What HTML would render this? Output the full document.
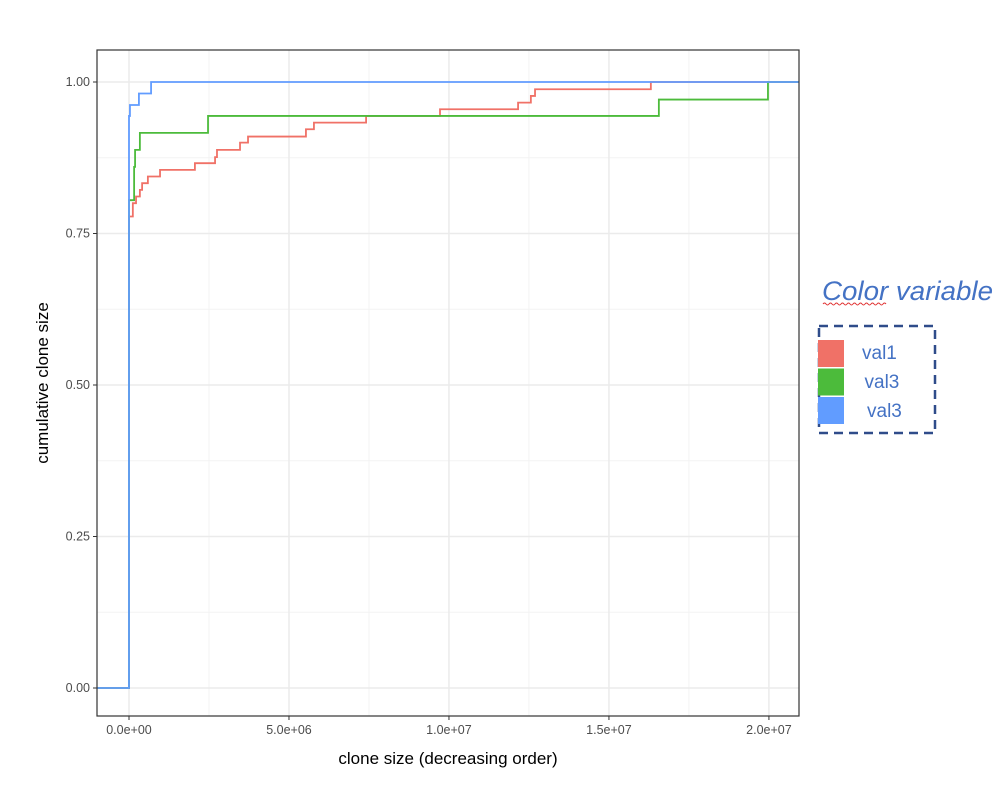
<!DOCTYPE html>
<html><head><meta charset="utf-8"><style>
html,body{margin:0;padding:0;background:#fff;}
svg{display:block;font-family:"Liberation Sans",sans-serif;}
</style></head><body>
<svg id="chart" width="1006" height="786" viewBox="0 0 1006 786"></svg>
<script>
// data (x in millions of clone size, y cumulative fraction)
const redX = [-1, 0.0, 0.12, 0.22, 0.34, 0.41, 0.59, 0.97, 2.06, 2.69, 2.75, 3.47, 3.72, 5.53, 5.78, 7.41, 9.72, 12.16, 12.56, 12.69, 16.31, 21];
const redY = [0, 0.778, 0.80, 0.811, 0.822, 0.833, 0.844, 0.855, 0.866, 0.876, 0.888, 0.900, 0.910, 0.922, 0.933, 0.944, 0.955, 0.966, 0.977, 0.988, 1.0, 1.0];
const greenX = [-1, 0.0, 0.16, 0.19, 0.34, 2.47, 16.56, 19.97, 21];
const greenY = [0, 0.805, 0.86, 0.888, 0.916, 0.944, 0.971, 1.0, 1.0];
const blueX = [-1, 0.0, 0.03, 0.31, 0.69, 21];
const blueY = [0, 0.944, 0.962, 0.981, 1.0, 1.0];
const xTicks = [0, 5, 10, 15, 20];
const xTickLabels = ["0.0e+00", "5.0e+06", "1.0e+07", "1.5e+07", "2.0e+07"];
const yTicks = [0, 0.25, 0.5, 0.75, 1.0];
const yTickLabels = ["0.00", "0.25", "0.50", "0.75", "1.00"];
const legendLabels = ["val1", "val3", "val3"];
const seriesColors = ["#F07167", "#4CBB3B", "#619CFF"];

const NS = "http://www.w3.org/2000/svg";
const svg = document.getElementById("chart");
const PL = 97, PR = 799, PT = 50, PB = 716;
const X0 = -1.0, X1 = 20.94, Y0 = -0.0462, Y1 = 1.0528;
const sx = v => PL + (v - X0) / (X1 - X0) * (PR - PL);
const sy = v => PB - (v - Y0) / (Y1 - Y0) * (PB - PT);
function mk(tag, attrs, parent) {
  const e = document.createElementNS(NS, tag);
  for (const k in attrs) e.setAttribute(k, attrs[k]);
  (parent || svg).appendChild(e);
  return e;
}
const grid = mk("g", {});


for (let i = 0; i < xTicks.length; i++) {
  const m = xTicks[i] + 2.5;
  if (m < X1) mk("line", {x1: sx(m), x2: sx(m), y1: PT, y2: PB, stroke: "#f3f3f3", "stroke-width": 1}, grid);
}
for (let i = 0; i < yTicks.length - 1; i++) {
  const m = yTicks[i] + 0.125;
  mk("line", {x1: PL, x2: PR, y1: sy(m), y2: sy(m), stroke: "#f3f3f3", "stroke-width": 1}, grid);
}
xTicks.forEach(t => mk("line", {x1: sx(t), x2: sx(t), y1: PT, y2: PB, stroke: "#ebebeb", "stroke-width": 1.5}, grid));
yTicks.forEach(t => mk("line", {x1: PL, x2: PR, y1: sy(t), y2: sy(t), stroke: "#ebebeb", "stroke-width": 1.5}, grid));

function stepPath(xs, ys) {
  let d = "M" + sx(xs[0]) + "," + sy(ys[0]);
  for (let i = 1; i < xs.length; i++) {
    d += " H" + sx(xs[i]) + " V" + sy(ys[i]);
  }
  return d;
}
const clip = mk("clipPath", {id: "pc"});
mk("rect", {x: PL, y: PT, width: PR - PL, height: PB - PT}, clip);
const series = [[redX, redY, "series-val1"], [greenX, greenY, "series-val3-green"], [blueX, blueY, "series-val3-blue"]];
series.forEach((s, i) => {
  const p = mk("path", {d: stepPath(s[0], s[1]), fill: "none", stroke: seriesColors[i], "stroke-width": 1.8, "clip-path": "url(#pc)"});
  
  
});
const border = mk("rect", {x: PL, y: PT, width: PR - PL, height: PB - PT, fill: "none", stroke: "#333", "stroke-width": 1.2});



xTicks.forEach((t, i) => {
  mk("line", {x1: sx(t), x2: sx(t), y1: PB, y2: PB + 4, stroke: "#333"});
  const tx = mk("text", {x: sx(t), y: PB + 18, "text-anchor": "middle", "font-size": 12.5, fill: "#4d4d4d"});
  tx.textContent = xTickLabels[i];
  
  
});
yTicks.forEach((t, i) => {
  mk("line", {x1: PL - 4, x2: PL, y1: sy(t), y2: sy(t), stroke: "#333"});
  const tx = mk("text", {x: PL - 7, y: sy(t) + 4, "text-anchor": "end", "font-size": 12.5, fill: "#4d4d4d"});
  tx.textContent = yTickLabels[i];
  
  
});
const xt = mk("text", {x: (PL + PR) / 2, y: 764, "text-anchor": "middle", "font-size": 17, fill: "#000"});
xt.textContent = "clone size (decreasing order)";


const yt = mk("text", {x: 0, y: 0, "text-anchor": "middle", "font-size": 17, fill: "#000", transform: "translate(48," + ((PT + PB) / 2) + ") rotate(-90)"});
yt.textContent = "cumulative clone size";



const lg = mk("g", {});


const lt = mk("text", {x: 822, y: 300, "font-size": 27, "font-style": "italic", fill: "#4472C4", textLength: 171, lengthAdjust: "spacingAndGlyphs"}, lg);
lt.textContent = "Color variable";


mk("path", {d: "M823,304 q1.5,-2 3,0 t3,0 t3,0 t3,0 t3,0 t3,0 t3,0 t3,0 t3,0 t3,0 t3,0 t3,0 t3,0 t3,0 t3,0 t3,0 t3,0 t3,0 t3,0 t3,0 t3,0", fill: "none", stroke: "#e03030", "stroke-width": 1}, lg);
mk("rect", {x: 819, y: 326, width: 116, height: 107, fill: "none", stroke: "#2F4C8A", "stroke-width": 2.5, "stroke-dasharray": "9,6"}, lg);
legendLabels.forEach((l, i) => {
  const r = mk("rect", {x: 818, y: 340 + i * 28.5, width: 26, height: 27, fill: seriesColors[i]}, lg);
  
  
  const t = mk("text", {x: 862 + i * 2.5, y: 359 + i * 29, "font-size": 19, fill: "#4472C4"}, lg);
  t.textContent = l;
  
  
});
</script>
</body></html>
